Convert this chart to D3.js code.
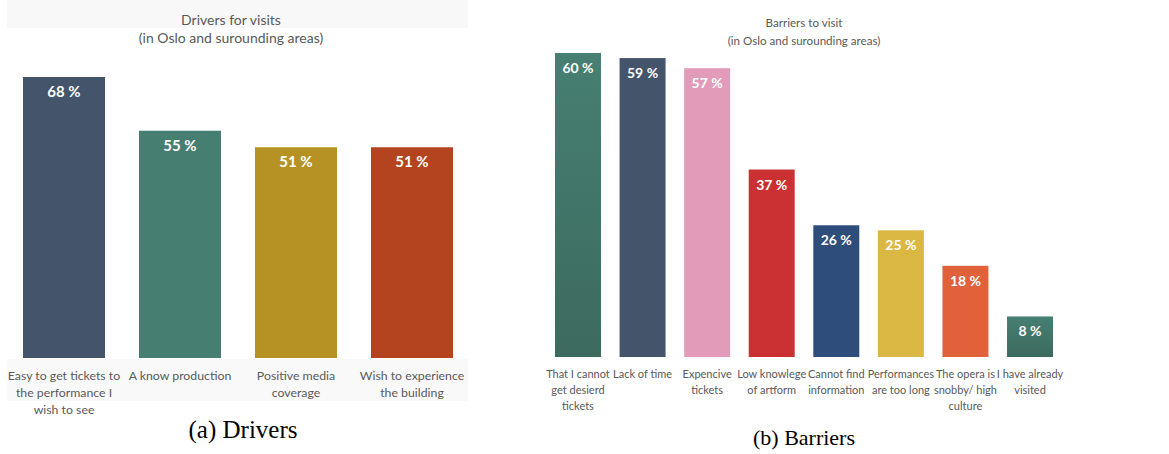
<!DOCTYPE html>
<html>
<head>
<meta charset="utf-8">
<script src="https://cdn.jsdelivr.net/npm/d3@7"></script>
<style>
  html, body { margin: 0; padding: 0; background: #ffffff; }
  svg { display: block; }
</style>
</head>
<body>
<svg id="chart" width="1169" height="454"></svg>
<script>
// Drivers for visits
const driverCategories = [
  "Easy to get tickets to\nthe performance I\nwish to see",
  "A know production",
  "Positive media\ncoverage",
  "Wish to experience\nthe building"
];
const driverValues = [68, 55, 51, 51];
const driverColors = ["#44546a", "#467e72", "#b69225", "#b4431f"];

// Barriers to visit
const barrierCategories = [
  "That I cannot\nget desierd\ntickets",
  "Lack of time",
  "Expencive\ntickets",
  "Low knowlege\nof artform",
  "Cannot find\ninformation",
  "Performances\nare too long",
  "The opera is\nsnobby/ high\nculture",
  "I have already\nvisited"
];
const barrierValues = [60, 59, 57, 37, 26, 25, 18, 8];
const barrierColors = ["url(#gradGreen)", "#44546a", "#e29bb8", "#cb3132", "#2e4d7b", "#dbb744", "#e0613a", "url(#gradGreen)"];

const titleLines = {
  drivers: ["Drivers for visits", "(in Oslo and surounding areas)"],
  barriers: ["Barriers to visit", "(in Oslo and surounding areas)"]
};
const captions = ["(a) Drivers", "(b) Barriers"];

const svg = d3.select("#chart");
const FONT = "Lato, 'Open Sans', sans-serif";

const defs = svg.append("defs");
const g = defs.append("linearGradient").attr("id", "gradGreen")
  .attr("x1", 0).attr("y1", 0).attr("x2", 0).attr("y2", 1);
g.append("stop").attr("offset", "0%").attr("stop-color", "#477f73");
g.append("stop").attr("offset", "100%").attr("stop-color", "#3c6a5e");

function panel(opts) {
  const root = svg.append("g");

  // faint background bands behind the title and the category labels
  if (opts.bands) {
    root.append("rect").attr("x", opts.bands.x0).attr("y", 0)
      .attr("width", opts.bands.x1 - opts.bands.x0).attr("height", 28)
      .attr("fill", "#f8f8f8");
    root.append("rect").attr("x", opts.bands.x0).attr("y", opts.y0 + 1)
      .attr("width", opts.bands.x1 - opts.bands.x0).attr("height", 42)
      .attr("fill", "#f9f9f9");
  }

  const x = d3.scaleBand()
    .domain(d3.range(opts.values.length))
    .range(opts.xRange)
    .paddingInner(opts.padIn)
    .paddingOuter(opts.padOut);

  const y = d3.scaleLinear()
    .domain([0, opts.refValue])
    .range([opts.y0, opts.refY]);

  // title
  const t = root.append("text")
    .attr("text-anchor", "middle")
    .attr("font-family", FONT)
    .attr("font-size", opts.titleSize)
    .attr("fill", "#595959");
  opts.title.forEach((line, i) => {
    t.append("tspan").attr("x", opts.titleX).attr("y", opts.titleY + i * 18).text(line);
  });

  // bars
  root.selectAll("rect.bar")
    .data(opts.values)
    .join("rect")
    .attr("class", "bar")
    .attr("x", (d, i) => x(i))
    .attr("y", d => y(d))
    .attr("width", x.bandwidth())
    .attr("height", d => y(0) - y(d))
    .attr("fill", (d, i) => opts.colors[i]);

  // value labels
  root.selectAll("text.val")
    .data(opts.values)
    .join("text")
    .attr("class", "val")
    .attr("x", (d, i) => x(i) + x.bandwidth() / 2)
    .attr("y", d => y(d) + 20)
    .attr("text-anchor", "middle")
    .attr("font-family", FONT)
    .attr("font-weight", "bold")
    .attr("font-size", opts.valSize)
    .attr("fill", "#ffffff")
    .text(d => d + " %");

  // category labels
  const cats = root.selectAll("text.cat")
    .data(opts.categories)
    .join("text")
    .attr("class", "cat")
    .attr("text-anchor", "middle")
    .attr("font-family", FONT)
    .attr("font-size", opts.catSize)
    .attr("fill", "#595959");
  cats.each(function (d, i) {
    const el = d3.select(this);
    d.split("\n").forEach((line, j) => {
      el.append("tspan")
        .attr("x", x(i) + x.bandwidth() / 2)
        .attr("y", opts.catY + j * opts.catLH)
        .text(line);
    });
  });

  // caption
  root.append("text")
    .attr("x", opts.captionX)
    .attr("y", opts.captionY)
    .attr("text-anchor", "middle")
    .attr("font-family", "'Liberation Serif', 'Times New Roman', serif")
    .attr("font-size", opts.captionSize)
    .attr("fill", "#000000")
    .text(opts.caption);
}

panel({
  categories: driverCategories,
  values: driverValues,
  colors: driverColors,
  xRange: [6, 470],
  padIn: 0.293,
  padOut: 0.1466,
  y0: 358,
  refValue: 68,
  refY: 77,
  title: titleLines.drivers,
  titleSize: 14,
  titleX: 231,
  titleY: 25,
  valSize: 15,
  catSize: 12.3,
  catY: 380,
  catLH: 17,
  captionX: 243,
  captionY: 438,
  captionSize: 25,
  caption: captions[0],
  bands: { x0: 7, x1: 468 }
});

panel({
  categories: barrierCategories,
  values: barrierValues,
  colors: barrierColors,
  xRange: [545.7, 1062.3],
  padIn: 0.288,
  padOut: 0.144,
  y0: 357,
  refValue: 60,
  refY: 53,
  title: titleLines.barriers,
  titleSize: 11.6,
  titleX: 804,
  titleY: 27,
  valSize: 14,
  catSize: 11,
  catY: 378,
  catLH: 16,
  captionX: 804,
  captionY: 445,
  captionSize: 22,
  caption: captions[1],
  bands: null
});
</script>
</body>
</html>
